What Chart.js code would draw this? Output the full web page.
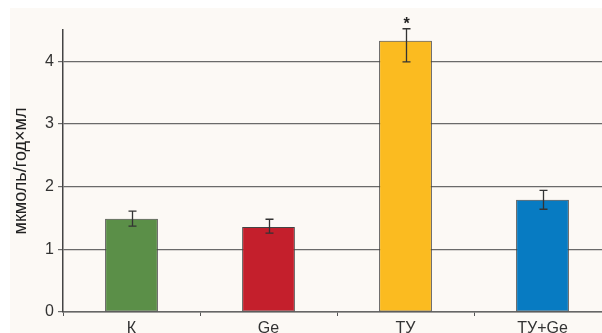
<!DOCTYPE html>
<html>
<head>
<meta charset="utf-8">
<script src="https://cdn.jsdelivr.net/npm/chart.js@4.4.1/dist/chart.umd.min.js"></script>
<style>
  html, body { margin: 0; padding: 0; background: #ffffff; overflow: hidden; }
  #wrap { width: 615px; height: 333px; }
</style>
</head>
<body>
<div id="wrap"><canvas id="mygraph" width="615" height="333"></canvas></div>
<script>
// groups and measured activity (mean with upper / lower error)
const groups = ['К', 'Ge', 'ТУ', 'ТУ+Ge'];
const means = [1.49, 1.355, 4.33, 1.79];
const errUp = [0.12, 0.125, 0.19, 0.15];
const errDown = [0.12, 0.095, 0.34, 0.15];
const significant = [false, false, true, false];
const barColors = ['#5b8f48', '#c41f2c', '#fbbb20', '#077bc2'];

// paper-coloured panel behind the plot
const panelBg = {
  id: 'panelBg',
  beforeDraw(chart) {
    const ctx = chart.ctx;
    ctx.save();
    ctx.fillStyle = '#fcf9f5';
    ctx.fillRect(10, 8, chart.width - 10, chart.height - 8);
    ctx.restore();
  }
};

// whiskers for the error range, plus asterisk where the difference is significant
const errorBars = {
  id: 'errorBars',
  afterDatasetsDraw(chart) {
    const ctx = chart.ctx;
    const xs = chart.scales.x, ys = chart.scales.y;
    ctx.save();
    ctx.strokeStyle = '#333333';
    ctx.lineWidth = 1.3;
    means.forEach((m, i) => {
      const x = Math.round(xs.getPixelForValue(i)) + 0.5;
      const top = ys.getPixelForValue(m + errUp[i]);
      const bot = ys.getPixelForValue(m - errDown[i]);
      ctx.beginPath();
      ctx.moveTo(x, top); ctx.lineTo(x, bot);
      ctx.moveTo(x - 4, top); ctx.lineTo(x + 4, top);
      ctx.moveTo(x - 4, bot); ctx.lineTo(x + 4, bot);
      ctx.stroke();
      if (significant[i]) {
        ctx.fillStyle = '#222222';
        ctx.font = 'bold 16px "Liberation Sans", Arial, sans-serif';
        ctx.textAlign = 'center';
        ctx.textBaseline = 'middle';
        ctx.fillText('*', x, top - 4);
      }
    });
    ctx.restore();
  }
};

new Chart(document.getElementById('mygraph'), {
  type: 'bar',
  data: {
    labels: groups,
    datasets: [{
      data: means,
      backgroundColor: barColors,
      borderColor: '#444444',
      borderWidth: 1,
      borderSkipped: false,
      categoryPercentage: 1,
      barPercentage: 0.385
    }]
  },
  options: {
    responsive: false,
    animation: false,
    layout: { padding: { top: 30, right: 4, left: 0, bottom: 0 } },
    plugins: { legend: { display: false }, tooltip: { enabled: false } },
    scales: {
      x: {
        grid: { display: true, drawOnChartArea: false, drawTicks: true, tickLength: 4, offset: true, color: '#555555' },
        border: { color: '#666666', width: 1.5 },
        ticks: { color: '#333333', padding: 3, font: { family: '"Liberation Sans", Arial, sans-serif', size: 16 } },
        afterFit(scale) { scale.height = 21; }
      },
      y: {
        min: 0,
        max: 4.5,
        grid: { color: '#6a6a6a', lineWidth: 1.2, tickLength: 5, drawTicks: true },
        border: { color: '#444444', width: 1.5 },
        ticks: {
          stepSize: 1,
          includeBounds: false,
          color: '#333333',
          padding: 4,
          font: { family: '"Liberation Sans", Arial, sans-serif', size: 16 }
        },
        title: {
          display: true,
          text: 'мкмоль/год×мл',
          color: '#222222',
          padding: { top: 10, bottom: 0 },
          font: { family: '"Liberation Sans", Arial, sans-serif', size: 18 }
        },
        afterFit(scale) { scale.width = 63; }
      }
    }
  },
  plugins: [panelBg, errorBars]
});
</script>
</body>
</html>
